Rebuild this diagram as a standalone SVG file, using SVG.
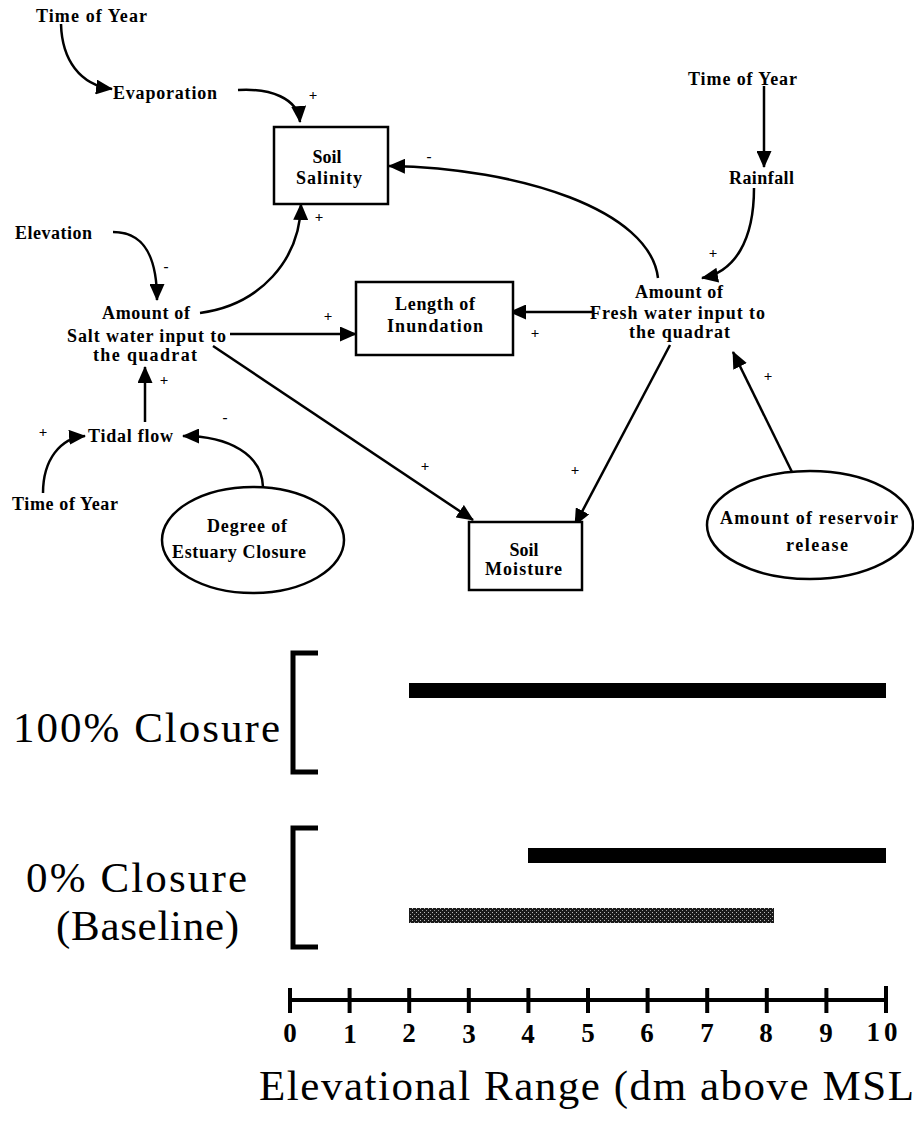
<svg xmlns="http://www.w3.org/2000/svg" width="914" height="1127" viewBox="0 0 914 1127">
<style>
.lbl{font-family:"Liberation Serif","Times New Roman",serif;font-weight:bold;font-size:18px;fill:#000}
.sgn{font-family:"Liberation Serif","Times New Roman",serif;font-weight:bold;font-size:15px;fill:#000;text-anchor:middle}
.big{font-family:"Liberation Serif","Times New Roman",serif;font-size:43px;fill:#000}
.num{font-family:"Liberation Serif","Times New Roman",serif;font-weight:bold;font-size:27px;fill:#000;text-anchor:middle}
.box{fill:#fff;stroke:#000;stroke-width:2.5}
.con{fill:none;stroke:#000;stroke-width:2.5;marker-end:url(#ah)}
.mid{text-anchor:middle}
</style>
<defs>
<marker id="ah" viewBox="0 0 17 15" refX="16" refY="7.5" markerWidth="17" markerHeight="15" markerUnits="userSpaceOnUse" orient="auto">
<path d="M0,0 L17,7.5 L0,15 z" fill="#000"/>
</marker>
<pattern id="stip" width="4" height="4" patternUnits="userSpaceOnUse">
<rect width="4" height="4" fill="#1a1a1a"/>
<rect x="0" y="0" width="1" height="1" fill="#bbb"/>
<rect x="2" y="2" width="1" height="1" fill="#999"/>
</pattern>
</defs>
<rect width="914" height="1127" fill="#fff"/>

<g id="connectors">
<path class="con" d="M61,24 C62,60 80,85 112,89"/>
<path class="con" d="M238,90 C270,88 298,98 300,122"/>
<path class="con" d="M658,278 C650,210 520,168 389,166"/>
<path class="con" d="M764,86 L764,167"/>
<path class="con" d="M754,188 C754,240 735,272 702,278"/>
<path class="con" d="M592,312 L510,312"/>
<path class="con" d="M113,232 C140,232 157,250 157,300"/>
<path class="con" d="M200,313 C260,305 300,260 301,204"/>
<path class="con" d="M230,334 L356,334"/>
<path class="con" d="M213,346 L473,520"/>
<path class="con" d="M670,345 L575,525"/>
<path class="con" d="M792,472 L733,352"/>
<path class="con" d="M145,422 L145,367"/>
<path class="con" d="M43,493 C43,460 60,438 85,436"/>
<path class="con" d="M263,487 C262,455 230,436 183,436"/>
</g>

<g id="signs">
<text class="sgn" x="313" y="100">+</text>
<text class="sgn" x="319" y="222">+</text>
<text class="sgn" x="429" y="161">-</text>
<text class="sgn" x="713" y="258">+</text>
<text class="sgn" x="535" y="338">+</text>
<text class="sgn" x="328" y="321">+</text>
<text class="sgn" x="166" y="271">-</text>
<text class="sgn" x="425" y="471">+</text>
<text class="sgn" x="575" y="475">+</text>
<text class="sgn" x="768" y="381">+</text>
<text class="sgn" x="164" y="385">+</text>
<text class="sgn" x="43" y="437">+</text>
<text class="sgn" x="225" y="422">-</text>
</g>

<g id="time-of-year-1"><text class="lbl" x="36" y="22" textLength="111" lengthAdjust="spacing">Time of Year</text></g>
<g id="evaporation"><text class="lbl" x="113" y="99" textLength="104" lengthAdjust="spacing">Evaporation</text></g>
<g id="soil-salinity">
<rect class="box" x="274" y="127" width="114" height="77"/>
<text class="lbl mid" x="327" y="163">Soil</text>
<text class="lbl" x="296" y="184" textLength="66" lengthAdjust="spacing">Salinity</text>
</g>
<g id="time-of-year-2"><text class="lbl" x="688" y="85" textLength="109" lengthAdjust="spacing">Time of Year</text></g>
<g id="rainfall"><text class="lbl" x="729" y="184" textLength="65" lengthAdjust="spacing">Rainfall</text></g>
<g id="fresh-water">
<text class="lbl" x="635" y="298" textLength="88" lengthAdjust="spacing">Amount of</text>
<text class="lbl" x="590" y="319" textLength="175" lengthAdjust="spacing">Fresh water input to</text>
<text class="lbl" x="629" y="338" textLength="101" lengthAdjust="spacing">the quadrat</text>
</g>
<g id="length-of-inundation">
<rect class="box" x="356" y="282" width="157" height="73"/>
<text class="lbl" x="395" y="310" textLength="80" lengthAdjust="spacing">Length of</text>
<text class="lbl" x="387" y="332" textLength="96" lengthAdjust="spacing">Inundation</text>
</g>
<g id="elevation"><text class="lbl" x="15" y="239" textLength="77" lengthAdjust="spacing">Elevation</text></g>
<g id="salt-water">
<text class="lbl" x="102" y="319" textLength="88" lengthAdjust="spacing">Amount of</text>
<text class="lbl" x="67" y="342" textLength="159" lengthAdjust="spacing">Salt water input to</text>
<text class="lbl" x="93" y="361" textLength="104" lengthAdjust="spacing">the quadrat</text>
</g>
<g id="tidal-flow"><text class="lbl" x="88" y="442" textLength="85" lengthAdjust="spacing">Tidal flow</text></g>
<g id="time-of-year-3"><text class="lbl" x="12" y="510" textLength="106" lengthAdjust="spacing">Time of Year</text></g>
<g id="estuary-closure">
<ellipse cx="253" cy="540" rx="91" ry="53" fill="none" stroke="#000" stroke-width="2.5"/>
<text class="lbl" x="207" y="532" textLength="80" lengthAdjust="spacing">Degree of</text>
<text class="lbl" x="172" y="558" textLength="134" lengthAdjust="spacing">Estuary Closure</text>
</g>
<g id="soil-moisture">
<rect class="box" x="469" y="522" width="113" height="68"/>
<text class="lbl mid" x="524" y="556">Soil</text>
<text class="lbl" x="485" y="575" textLength="77" lengthAdjust="spacing">Moisture</text>
</g>
<g id="reservoir-release">
<ellipse cx="810" cy="525" rx="103" ry="54" fill="none" stroke="#000" stroke-width="2.5"/>
<text class="lbl" x="720" y="524" textLength="178" lengthAdjust="spacing">Amount of reservoir</text>
<text class="lbl" x="786" y="551" textLength="62" lengthAdjust="spacing">release</text>
</g>

<g id="chart">
<text class="big" x="13" y="742" textLength="267" lengthAdjust="spacing">100%  Closure</text>
<text class="big" x="26" y="892" font-size="42" textLength="221" lengthAdjust="spacing">0%  Closure</text>
<text class="big" x="56" y="940" font-size="42" textLength="183" lengthAdjust="spacing">(Baseline)</text>
<path d="M318,653 L293,653 L293,772 L318,772" fill="none" stroke="#000" stroke-width="5"/>
<path d="M318,828 L293,828 L293,947 L318,947" fill="none" stroke="#000" stroke-width="5"/>
<rect x="409" y="683" width="477" height="15" fill="#000"/>
<rect x="528" y="848" width="358" height="15" fill="#000"/>
<rect x="409" y="908" width="365" height="15" fill="url(#stip)"/>
<g id="axis" stroke="#000" stroke-width="4">
<line x1="290" y1="1000" x2="886" y2="1000"/>
<line x1="290" y1="988" x2="290" y2="1013"/>
<line x1="349.6" y1="988" x2="349.6" y2="1013"/>
<line x1="409.2" y1="988" x2="409.2" y2="1013"/>
<line x1="468.8" y1="988" x2="468.8" y2="1013"/>
<line x1="528.4" y1="988" x2="528.4" y2="1013"/>
<line x1="588" y1="988" x2="588" y2="1013"/>
<line x1="647.6" y1="988" x2="647.6" y2="1013"/>
<line x1="707.2" y1="988" x2="707.2" y2="1013"/>
<line x1="766.8" y1="988" x2="766.8" y2="1013"/>
<line x1="826.4" y1="988" x2="826.4" y2="1013"/>
<line x1="886" y1="986" x2="886" y2="1013"/>
</g>
<text class="num" x="290" y="1042">0</text>
<text class="num" x="350" y="1043">1</text>
<text class="num" x="409" y="1042">2</text>
<text class="num" x="469" y="1043">3</text>
<text class="num" x="528" y="1043">4</text>
<text class="num" x="588" y="1042">5</text>
<text class="num" x="647" y="1042">6</text>
<text class="num" x="707" y="1042">7</text>
<text class="num" x="766" y="1042">8</text>
<text class="num" x="826" y="1042">9</text>
<text class="num" x="884" y="1041" letter-spacing="4">10</text>
<text class="big" x="259" y="1100" textLength="655" lengthAdjust="spacing">Elevational  Range  (dm  above  MSL</text>
</g>
</svg>
